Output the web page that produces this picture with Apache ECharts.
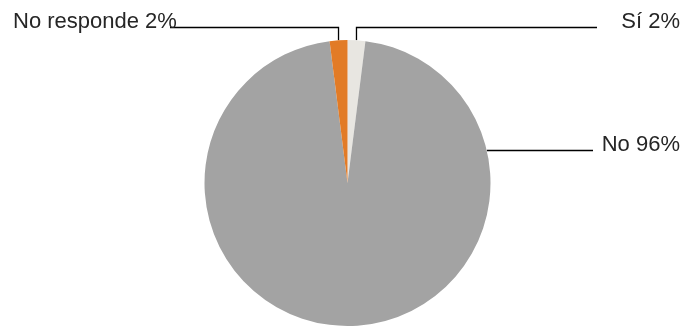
<!DOCTYPE html>
<html>
<head>
<meta charset="utf-8">
<script src="https://cdn.jsdelivr.net/npm/echarts@6/dist/echarts.min.js"></script>
<style>html,body{margin:0;padding:0;background:#fff}#c{width:698px;height:327px}</style>
</head>
<body>
<div id="c"></div>
<script>
const categories = ['Sí', 'No', 'No responde'];
const values = [2, 96, 2];
const colors = ['#e8e6e1', '#a3a3a3', '#e27b26'];

const cx = 347.5, cy = 183, R = 143;
const chart = echarts.init(document.getElementById('c'));
chart.setOption({
  animation: false,
  series: [{
    type: 'pie',
    center: [cx, cy],
    radius: [0, R],
    startAngle: 90,
    clockwise: true,
    itemStyle: { borderWidth: 0 },
    emphasis: { disabled: true },
    data: categories.map((n, i) => ({ name: n, value: values[i], itemStyle: { color: colors[i], borderWidth: 0 } })),
    label: {
      show: true,
      formatter: p => p.name + ' ' + p.value + '%',
      fontFamily: '"Liberation Sans", Arial, sans-serif',
      fontSize: 22,
      color: '#262626'
    },
    labelLine: { show: true, lineStyle: { color: '#000', width: 1.3, opacity: 1 } },
    labelLayout: function (p) {
      const a = p.labelLinePoints ? p.labelLinePoints[0] : [cx, cy - R];
      if (p.dataIndex === 0) {
        return { x: 680, y: 22, align: 'right', verticalAlign: 'middle',
          labelLinePoints: [[a[0], a[1]], [a[0], 27.5], [597, 27.5]] };
      } else if (p.dataIndex === 2) {
        return { x: 13, y: 22, align: 'left', verticalAlign: 'middle',
          labelLinePoints: [[a[0], a[1]], [a[0], 27.5], [170, 27.5]] };
      } else {
        const yy = 150.5;
        const xx = cx + Math.sqrt(R * R - (cy - yy) * (cy - yy));
        return { x: 680, y: 145, align: 'right', verticalAlign: 'middle',
          labelLinePoints: [[xx, yy], [593, yy]] };
      }
    }
  }]
});
</script>
</body>
</html>
